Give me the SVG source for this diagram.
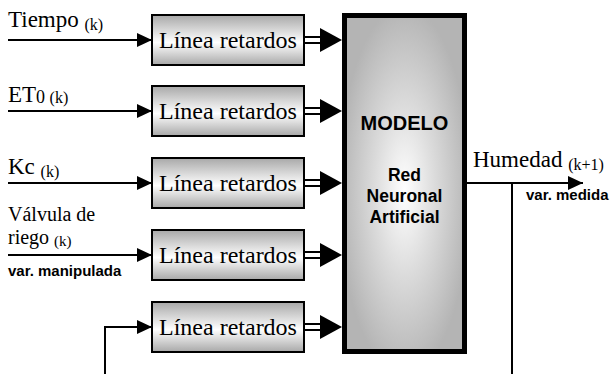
<svg xmlns="http://www.w3.org/2000/svg" width="614" height="374" viewBox="0 0 614 374">
<defs>
<linearGradient id="gDelay" x1="0" y1="0" x2="0" y2="1">
<stop offset="0" stop-color="#a8a8a8"/>
<stop offset="0.55" stop-color="#ffffff"/>
<stop offset="1" stop-color="#a8a8a8"/>
</linearGradient>
<radialGradient id="gModel" cx="0.5" cy="0.52" r="0.55">
<stop offset="0" stop-color="#ffffff"/>
<stop offset="0.45" stop-color="#dcdcdc"/>
<stop offset="1" stop-color="#b4b4b4"/>
</radialGradient>
<marker id="arr" markerUnits="userSpaceOnUse" markerWidth="15" markerHeight="14" refX="15" refY="7" orient="auto">
<path d="M0,0 L15,7 L0,14 Z" fill="#000"/>
</marker>
</defs>
<style>
.delay{fill:url(#gDelay);stroke:#000;stroke-width:2}
.model{fill:url(#gModel);stroke:#000;stroke-width:5}
.ser{font-family:"Liberation Serif","Times New Roman",serif;fill:#000}
.lbl{font-size:23px}
.box{font-size:24px}
.sub{font-size:16px}
.sans{font-family:"Liberation Sans",Arial,sans-serif;font-weight:bold;fill:#000}
.ln{stroke:#000;stroke-width:2;fill:none}
.dbl{stroke:#000;stroke-width:1.8;fill:none}
</style>

<g id="connectors">
<line class="ln" x1="8" y1="40" x2="152" y2="40" marker-end="url(#arr)"/>
<line class="ln" x1="8" y1="111" x2="152" y2="111" marker-end="url(#arr)"/>
<line class="ln" x1="8" y1="183" x2="152" y2="183" marker-end="url(#arr)"/>
<line class="ln" x1="8" y1="255" x2="152" y2="255" marker-end="url(#arr)"/>
<polyline class="ln" points="105,374 105,327 152,327" marker-end="url(#arr)"/>
<g id="double-arrows">
<path class="dbl" d="M304,37 H322 M304,43 H322"/>
<polygon points="320,28 342,40 320,52"/>
<path class="dbl" d="M304,108 H322 M304,114 H322"/>
<polygon points="320,99 342,111 320,123"/>
<path class="dbl" d="M304,180 H322 M304,186 H322"/>
<polygon points="320,171 342,183 320,195"/>
<path class="dbl" d="M304,252 H322 M304,258 H322"/>
<polygon points="320,243 342,255 320,267"/>
<path class="dbl" d="M304,324 H322 M304,330 H322"/>
<polygon points="320,315 342,327 320,339"/>
</g>
<line class="ln" x1="467" y1="183" x2="583" y2="183" marker-end="url(#arr)"/>
<line class="ln" x1="512" y1="183" x2="512" y2="374"/>
</g>

<g id="delay1">
<rect class="delay" x="152" y="15" width="152" height="50"/>
<text class="ser box" x="228" y="48" text-anchor="middle">Línea retardos</text>
</g>
<g id="delay2">
<rect class="delay" x="152" y="86" width="152" height="50"/>
<text class="ser box" x="228" y="119" text-anchor="middle">Línea retardos</text>
</g>
<g id="delay3">
<rect class="delay" x="152" y="158" width="152" height="50"/>
<text class="ser box" x="228" y="191" text-anchor="middle">Línea retardos</text>
</g>
<g id="delay4">
<rect class="delay" x="152" y="230" width="152" height="50"/>
<text class="ser box" x="228" y="263" text-anchor="middle">Línea retardos</text>
</g>
<g id="delay5">
<rect class="delay" x="152" y="302" width="152" height="50"/>
<text class="ser box" x="228" y="335" text-anchor="middle">Línea retardos</text>
</g>

<g id="modelo">
<rect class="model" x="344.5" y="15.5" width="120" height="336"/>
<text class="sans" x="404.5" y="130" text-anchor="middle" font-size="20">MODELO</text>
<text class="sans" text-anchor="middle" font-size="17.5"><tspan x="404.5" y="181">Red</tspan><tspan x="404.5" dy="21">Neuronal</tspan><tspan x="404.5" dy="21">Artificial</tspan></text>
</g>

<g id="labels">
<text class="ser lbl" x="8" y="27">Tiempo <tspan class="sub" dy="3">(k)</tspan></text>
<text class="ser lbl" x="8" y="102">ET<tspan font-size="18" dy="1">0 </tspan><tspan class="sub">(k)</tspan></text>
<text class="ser lbl" x="8" y="174">Kc <tspan class="sub" dy="3">(k)</tspan></text>
<text class="ser" font-size="20"><tspan x="8" y="221">Válvula de</tspan><tspan x="8" dy="23">riego </tspan><tspan font-size="15" dy="2">(k)</tspan></text>
<text class="sans" x="8" y="276" font-size="15">var. manipulada</text>
<text class="ser lbl" x="473" y="167">Humedad <tspan class="sub" dy="3">(k+1)</tspan></text>
<text class="sans" x="526" y="200" font-size="15">var. medida</text>
</g>
</svg>
